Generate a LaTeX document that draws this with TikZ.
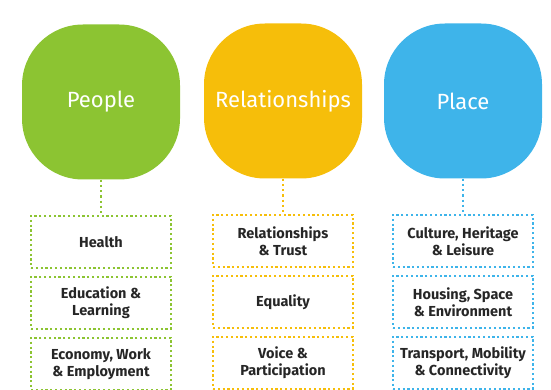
\documentclass[tikz,border=0pt]{standalone}
\usepackage{fontspec}
\setmainfont{Fira Sans}
\usetikzlibrary{positioning}
\definecolor{peoplegreen}{RGB}{140,196,50}
\definecolor{relyellow}{RGB}{246,190,10}
\definecolor{placeblue}{RGB}{62,180,234}

\begin{document}
\begin{tikzpicture}[
        x=1pt, y=1pt,
        node distance=6.5pt,
        blob/.style={rectangle, rounded corners=61pt, minimum width=158pt, minimum height=155pt, text=white, font=\fontsize{22}{26}\selectfont},
        theme/.style={rectangle, line width=2.4pt, dash pattern=on 2.2pt off 2.6pt, minimum width=140pt, minimum height=52pt, align=center, text=black!85, font=\bfseries\fontsize{14.5}{17}\selectfont},
        link/.style={line width=2.4pt, dash pattern=on 2.2pt off 3pt}
    ]
        \useasboundingbox (0,0) rectangle (551,-390);
        \node[blob, fill=peoplegreen] (people) at (101,-102) {People};
        \node[blob, fill=relyellow] (rel) at (283,-101) {Relationships};
        \node[blob, fill=placeblue] (place) at (463,-101) {Place};
        \node[theme, draw=peoplegreen, below=35pt of people] (health) {Health};
        \node[theme, draw=peoplegreen, below=of health] (edu) {Education \&\\ Learning};
        \node[theme, draw=peoplegreen, below=of edu] (econ) {Economy, Work\\ \& Employment};
        \node[theme, draw=relyellow, below=35pt of rel] (trust) {Relationships\\ \& Trust};
        \node[theme, draw=relyellow, below=of trust] (equal) {Equality};
        \node[theme, draw=relyellow, below=of equal] (voice) {Voice \&\\ Participation};
        \node[theme, draw=placeblue, below=35pt of place] (culture) {Culture, Heritage\\ \& Leisure};
        \node[theme, draw=placeblue, below=of culture] (housing) {Housing, Space\\ \& Environment};
        \node[theme, draw=placeblue, below=of housing] (transport) {Transport, Mobility\\ \& Connectivity};
        \draw[link, peoplegreen] (people) -- (health);
        \draw[link, relyellow] (rel) -- (trust);
        \draw[link, placeblue] (place) -- (culture);
    \end{tikzpicture}
\end{document}
